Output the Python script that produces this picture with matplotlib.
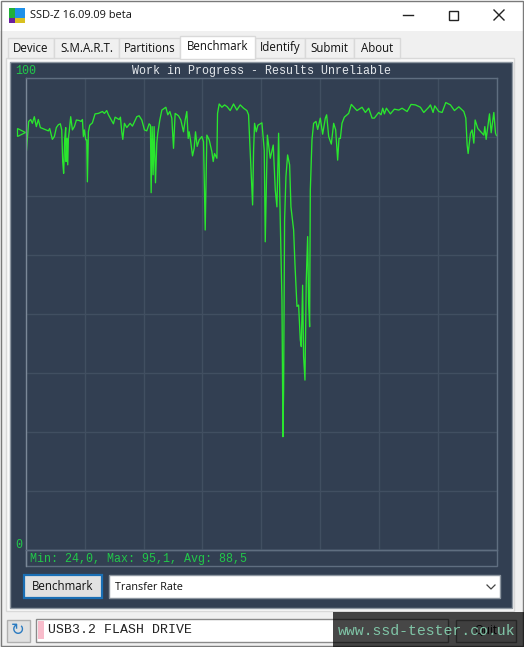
import matplotlib
matplotlib.use('Agg')
import matplotlib.pyplot as plt
from matplotlib.patches import Rectangle

# transfer rate trace, position in % of the run and rate in %
position = [0.1, 0.35, 0.57, 1.0, 1.35, 1.77, 2.2, 2.62, 3.05, 4.04, 4.75, 5.04, 5.6, 6.03, 6.45, 6.88, 7.3, 7.59, 7.8, 8.0,
            8.23, 8.44, 8.51, 8.72, 8.87, 9.01, 9.22, 9.5, 9.86, 10.28, 10.71, 11.28, 11.7, 11.99, 12.2, 12.41, 12.7, 12.91, 13.05, 13.26,
            13.55, 14.11, 14.68, 15.39, 16.24, 16.67, 17.16, 17.52, 18.58, 18.94, 19.79, 20.07, 20.35, 20.57, 20.92, 21.42, 22.13, 22.62, 23.55, 24.04,
            24.61, 25.18, 25.67, 26.17, 26.45, 26.6, 26.81, 27.02, 27.23, 27.52, 27.8, 28.01, 28.44, 28.87, 29.72, 30.14, 30.57, 30.99, 31.35, 31.7,
            32.41, 32.91, 33.47, 33.83, 34.18, 34.47, 34.68, 34.96, 35.39, 35.74, 36.03, 36.38, 36.81, 37.38, 37.73, 38.09, 38.44, 38.94, 39.5, 39.79,
            40.07, 40.57, 40.71, 41.06, 41.63, 42.2, 42.77, 43.4, 44.11, 44.82, 45.53, 46.24, 46.95, 47.3, 47.66, 48.16, 48.37, 48.58, 48.94, 49.29,
            50.14, 50.64, 50.85, 51.3, 51.92, 52.55, 52.98, 53.33, 53.69, 54.04, 54.4, 54.61, 54.75, 54.96, 55.25, 55.6, 56.03, 56.31, 56.88, 57.16,
            57.59, 57.94, 58.3, 58.51, 58.79, 59.0, 59.29, 59.57, 59.86, 60.07, 60.28, 60.43, 60.78, 61.13, 61.63, 61.99, 62.55, 63.05, 63.62, 63.9,
            64.33, 64.89, 65.39, 65.82, 66.1, 66.24, 66.52, 66.81, 67.16, 67.66, 68.58, 69.15, 70.35, 71.42, 72.13, 72.84, 73.55, 74.04, 74.96, 75.46,
            75.82, 76.17, 76.6, 77.45, 78.3, 79.22, 79.93, 81.0, 81.84, 82.77, 83.83, 84.54, 85.6, 85.96, 86.52, 86.88, 87.73, 88.44, 89.22, 90.21,
            91.06, 91.99, 93.05, 93.48, 93.76, 93.97, 94.47, 94.82, 95.18, 95.46, 96.03, 97.3, 97.52, 97.8, 98.16, 98.51, 98.87, 99.43, 99.79, 100.0]
rate = [84.7, 87.9, 90.8, 91.2, 90.4, 91.8, 89.7, 91.2, 89.5, 89.1, 88.8, 89.3, 87.0, 87.6, 89.5, 90.1, 90.3, 89.0, 82.3, 79.8,
        87.2, 89.5, 82.3, 87.2, 81.6, 87.2, 89.0, 91.8, 89.0, 89.7, 91.1, 91.0, 90.8, 91.2, 87.6, 89.0, 86.9, 86.9, 78.0, 88.6,
        90.0, 90.5, 92.4, 92.5, 92.9, 92.5, 93.1, 92.2, 90.3, 91.7, 91.2, 91.7, 88.6, 87.0, 90.4, 89.5, 90.4, 89.8, 91.8, 92.0,
        91.1, 89.0, 88.8, 90.3, 90.0, 75.7, 89.7, 79.5, 89.7, 77.8, 86.2, 88.3, 91.1, 93.2, 93.8, 92.2, 92.9, 91.5, 85.1, 92.5,
        92.0, 91.1, 88.6, 91.1, 92.9, 87.2, 88.6, 86.9, 83.5, 85.1, 88.6, 85.5, 86.9, 87.6, 86.5, 67.8, 87.9, 86.9, 84.4, 82.3,
        84.0, 83.0, 92.5, 94.5, 93.8, 94.3, 93.9, 93.1, 94.5, 93.2, 94.3, 93.6, 93.1, 92.2, 84.4, 73.1, 84.7, 90.4, 88.6, 90.0,
        90.5, 84.7, 65.3, 87.9, 83.0, 85.8, 76.3, 72.7, 88.3, 69.9, 53.0, 24.0, 33.9, 69.9, 79.1, 83.7, 81.6, 72.7, 67.8, 60.7,
        51.6, 51.9, 44.5, 43.1, 56.1, 41.0, 36.0, 57.2, 66.4, 52.3, 47.3, 76.3, 86.9, 90.4, 90.8, 89.1, 91.5, 88.1, 91.5, 92.2,
        87.6, 86.0, 90.4, 89.0, 84.7, 82.6, 87.2, 87.2, 90.4, 91.7, 92.5, 94.4, 93.1, 93.8, 92.7, 93.6, 91.5, 91.5, 92.7, 92.2,
        93.6, 92.4, 93.6, 92.4, 93.4, 93.2, 93.6, 92.9, 94.4, 94.3, 93.8, 92.7, 93.8, 94.3, 92.7, 94.1, 92.9, 92.7, 94.8, 94.3,
        93.1, 93.9, 92.9, 91.5, 85.8, 84.0, 88.3, 89.0, 86.2, 91.1, 89.3, 87.9, 89.7, 87.0, 89.7, 92.4, 88.4, 92.7, 88.3, 87.8]
avg_rate = 88.5
tabs = ['Device', 'S.M.A.R.T.', 'Partitions', 'Benchmark', 'Identify', 'Submit', 'About']
tab_edges = [8, 54, 119, 180, 255, 305, 354, 400]

W, H = 524, 647
ui_font = 'Open Sans'
mono = 'Liberation Mono'
dark = '#323f52'
green = '#2ae62e'

fig = plt.figure(figsize=(W / 100, H / 100), dpi=100, facecolor='#f0f0f0')

# window chrome drawn in pixel coords, y going down
bg = fig.add_axes([0, 0, 1, 1], zorder=0)
bg.set_xlim(0, W)
bg.set_ylim(H, 0)
bg.axis('off')


def box(a, x0, y0, x1, y1, fc, ec='none', lw=1, **kw):
    a.add_patch(Rectangle((x0, y0), x1 - x0, y1 - y0, fc=fc, ec=ec, lw=lw, **kw))


box(bg, 0, 0, W, 31, 'white')
box(bg, 0.5, 0.5, W - 1, H - 1, 'none', '#7a7a7a')
# logo
box(bg, 9, 8, 15, 18, '#22b03a')
box(bg, 15, 8, 25, 18, '#1e90e8')
box(bg, 9, 18, 15, 23, '#6a1fa0')
box(bg, 15, 18, 25, 23, '#d8c020')
bg.text(30, 15.5, 'SSD-Z 16.09.09 beta', fontsize=7.9, family=ui_font, va='center', color='#111111')
# window buttons
bg.plot([403, 413], [15, 15], color='#222222', lw=1)
box(bg, 448.5, 10.5, 457.5, 19.5, 'none', '#222222')
bg.plot([494, 504], [10, 20], color='#222222', lw=1)
bg.plot([494, 504], [20, 10], color='#222222', lw=1)

# tab page and tabs
box(bg, 6, 58, 514, 611, '#fafafa', '#d9d9d9')
box(bg, 9.5, 61.5, 512, 607.5, dark, '#8d96a0')
for i, name in enumerate(tabs):
    x0, x1 = tab_edges[i], tab_edges[i + 1]
    if name == 'Benchmark':
        box(bg, x0, 35.5, x1, 59, 'white', '#d9d9d9', zorder=3)
        bg.text((x0 + x1) / 2, 46, name, fontsize=8.3, family=ui_font, ha='center', va='center', color='#111111', zorder=4)
    else:
        box(bg, x0, 37.5, x1, 58, '#f0f0f0', '#d9d9d9')
        bg.text((x0 + x1) / 2, 48, name, fontsize=8.3, family=ui_font, ha='center', va='center', color='#111111')

# the chart itself
ax = fig.add_axes([26 / W, 1 - 550 / H, 470.5 / W, 472 / H], zorder=1)
ax.set_facecolor('none')
ax.set_xlim(0, 100)
ax.set_ylim(0, 100)
ax.set_xticks([12.5 * i for i in range(9)])
ax.set_yticks([12.5 * i for i in range(9)])
ax.grid(color='#414f61', lw=1)
ax.tick_params(length=0, labelbottom=False, labelleft=False)
ax.set_axisbelow(True)
for s in ax.spines.values():
    s.set_color('#5f6e80')
    s.set_linewidth(1)
ax.spines['left'].set_color('#7b8898')
ax.plot(position, rate, color=green, lw=0.95, solid_joinstyle='round')
ax.plot([-1.06], [avg_rate], marker='>', ms=5.5, mfc='none', mec=green, mew=0.9, clip_on=False)

# everything around the plot area
box(bg, 26, 550, 496.5, 566, 'none', '#5f6e80')
bg.plot([26, 26], [550, 566], color='#7b8898', lw=1)
bg.text(15, 71.5, '100', fontsize=8.4, family=mono, color='#22c84a', va='center')
bg.text(15, 544.5, '0', fontsize=8.4, family=mono, color='#22c84a', va='center')
bg.text(261, 71, 'Work in Progress - Results Unreliable', fontsize=8.4, family=mono, color='#e4e8ec', ha='center', va='center')
bg.text(30, 559, 'Min: 24,0, Max: 95,1, Avg: 88,5', fontsize=8.4, family=mono, color='#22c84a', va='center')

# controls under the chart
box(bg, 24, 575, 102, 598, '#e1e1e1', '#1a6fb5', lw=1.6)
bg.text(63, 587, 'Benchmark', fontsize=8.3, family=ui_font, ha='center', va='center', color='#111111')
box(bg, 109, 575, 499.5, 598, 'white', '#8d96a0')
bg.text(115, 587, 'Transfer Rate', fontsize=7.8, family=ui_font, va='center', color='#111111')
bg.plot([487, 491, 495], [585, 589, 585], color='#444444', lw=0.9)

# status row
box(bg, 6.5, 619.5, 29.5, 641.5, '#e1e1e1', '#b0b0b0')
bg.text(18, 630, '\u21bb', fontsize=12, ha='center', va='center', color='#2a7ac0')
box(bg, 35.5, 618.5, 448, 641.5, 'white', '#8a8a8a')
box(bg, 38, 621, 44, 639, '#f8bccb')
bg.text(48, 630, 'USB3.2 FLASH DRIVE', fontsize=9.5, family=mono, va='center', color='#222222')
box(bg, 455.5, 619.5, 516, 641.5, '#e1e1e1', '#8a8a8a')
bg.text(486, 630, 'Quit', fontsize=8.3, family=ui_font, ha='center', va='center', color='#111111')

# watermark on top
top = fig.add_axes([0, 0, 1, 1], zorder=2)
top.set_xlim(0, W)
top.set_ylim(H, 0)
top.axis('off')
box(top, 333, 612, W, H, '#000000', alpha=0.72)
top.text(338, 631, 'www.ssd-tester.co.uk', fontsize=10.7, family=mono, va='center', color='#7fc4a6')

plt.savefig('out.png', dpi=100, facecolor=fig.get_facecolor())
plt.close(fig)
